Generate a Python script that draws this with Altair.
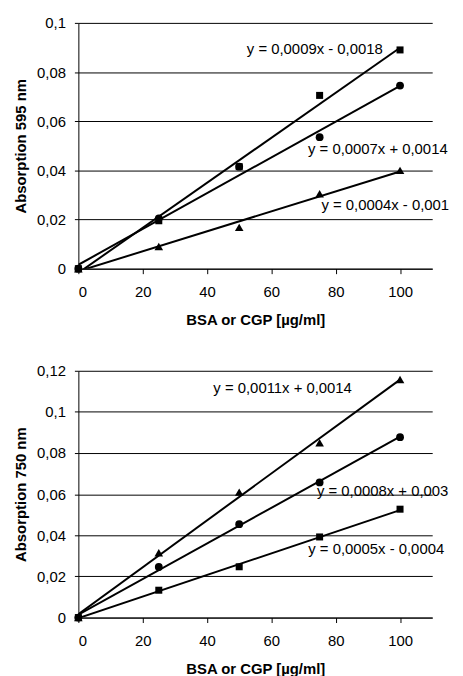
import altair as alt
import pandas as pd

conc = [0, 25, 50, 75, 100]

# 595 nm panel
top_square = [0.0, 0.0195, 0.0415, 0.0705, 0.089]
top_circle = [0.0, 0.0205, 0.0415, 0.0535, 0.0745]
top_triangle = [0.0, 0.009, 0.0168, 0.0305, 0.0400]
top_eq_text = ["y = 0,0009x - 0,0018", "y = 0,0007x + 0,0014", "y = 0,0004x - 0,001"]
top_eq_x = [73.5, 93.1, 95.4]
top_eq_y = [0.0895, 0.0488, 0.0258]

# 750 nm panel
bot_triangle = [0.0, 0.0315, 0.061, 0.085, 0.1158]
bot_circle = [0.0, 0.0246, 0.0454, 0.0657, 0.0877]
bot_square = [0.0, 0.0133, 0.0247, 0.0392, 0.0527]
bot_eq_text = ["y = 0,0011x + 0,0014", "y = 0,0008x + 0,003", "y = 0,0005x - 0,0004"]
bot_eq_x = [63.5, 94.6, 92.6]
bot_eq_y = [0.1118, 0.0617, 0.0333]

x_ticks = [0, 20, 40, 60, 80, 100]
top_y_ticks = [0, 0.02, 0.04, 0.06, 0.08, 0.1]
bot_y_ticks = [0, 0.02, 0.04, 0.06, 0.08, 0.1, 0.12]

FONT = "Liberation Sans"


def make_df(sq, ci, tr):
    rows = []
    for name, vals in (("square", sq), ("circle", ci), ("triangle", tr)):
        for c, v in zip(conc, vals):
            rows.append({"conc": c, "value": v, "series": name})
    return pd.DataFrame(rows)


def panel(df, eq_text, eq_x, eq_y, ytitle, ymax, yticks, h):
    xs = alt.Scale(domain=[0, 110], nice=False)
    ys = alt.Scale(domain=[0, ymax], nice=False)
    xax = alt.Axis(values=x_ticks, title="BSA or CGP [µg/ml]", grid=False,
                   domainColor="black", tickColor="black", tickSize=5,
                   labelPadding=11, labelFontSize=15, labelFont=FONT,
                   labelColor="black", titleFont=FONT, titleFontSize=15,
                   titleFontWeight="bold", titlePadding=13, titleColor="black")
    yax = alt.Axis(values=yticks, title=ytitle, grid=True, gridColor="black",
                   gridOpacity=1, gridWidth=1, domainColor="black",
                   tickColor="black", tickSize=4, labelPadding=9,
                   labelFontSize=15, labelFont=FONT, labelColor="black",
                   labelExpr="replace(format(datum.value, '.2~f'), '.', ',')",
                   titleFont=FONT, titleFontSize=15, titleFontWeight="bold",
                   titlePadding=8, titleColor="black")
    base = alt.Chart(df)
    lines = base.transform_regression(
        "conc", "value", groupby=["series"], method="linear"
    ).mark_line(color="black", strokeWidth=2, clip=True).encode(
        x=alt.X("conc:Q", scale=xs, axis=xax),
        y=alt.Y("value:Q", scale=ys, axis=yax),
        detail="series:N",
    )
    pts = base.mark_point(filled=True, color="black", opacity=1).encode(
        x=alt.X("conc:Q", scale=xs),
        y=alt.Y("value:Q", scale=ys),
        shape=alt.Shape("series:N", legend=None,
                        scale=alt.Scale(domain=["square", "circle", "triangle"],
                                        range=["square", "circle", "triangle-up"])),
        size=alt.Size("series:N", legend=None,
                      scale=alt.Scale(domain=["square", "circle", "triangle"],
                                      range=[50, 75, 60])),
    )
    eq_df = pd.DataFrame({"text": eq_text, "x": eq_x, "y": eq_y})
    txt = alt.Chart(eq_df).mark_text(font=FONT, fontSize=15, align="center",
                                     baseline="middle", color="black").encode(
        x=alt.X("x:Q", scale=xs),
        y=alt.Y("y:Q", scale=ys),
        text="text:N",
    )
    return alt.layer(lines, pts, txt).properties(width=357, height=h)


top = panel(make_df(top_square, top_circle, top_triangle), top_eq_text, top_eq_x,
            top_eq_y, "Absorption 595 nm", 0.1, top_y_ticks, 248)
bot = panel(make_df(bot_square, bot_circle, bot_triangle), bot_eq_text, bot_eq_x,
            bot_eq_y, "Absorption 750 nm", 0.12, bot_y_ticks, 249)

chart = alt.vconcat(top, bot, spacing=37).resolve_scale(
    x="independent", y="independent", shape="independent", size="independent"
).configure_view(stroke=None).properties(background="white")

chart.save("out.html", embed_options={"renderer": "svg", "actions": False})
